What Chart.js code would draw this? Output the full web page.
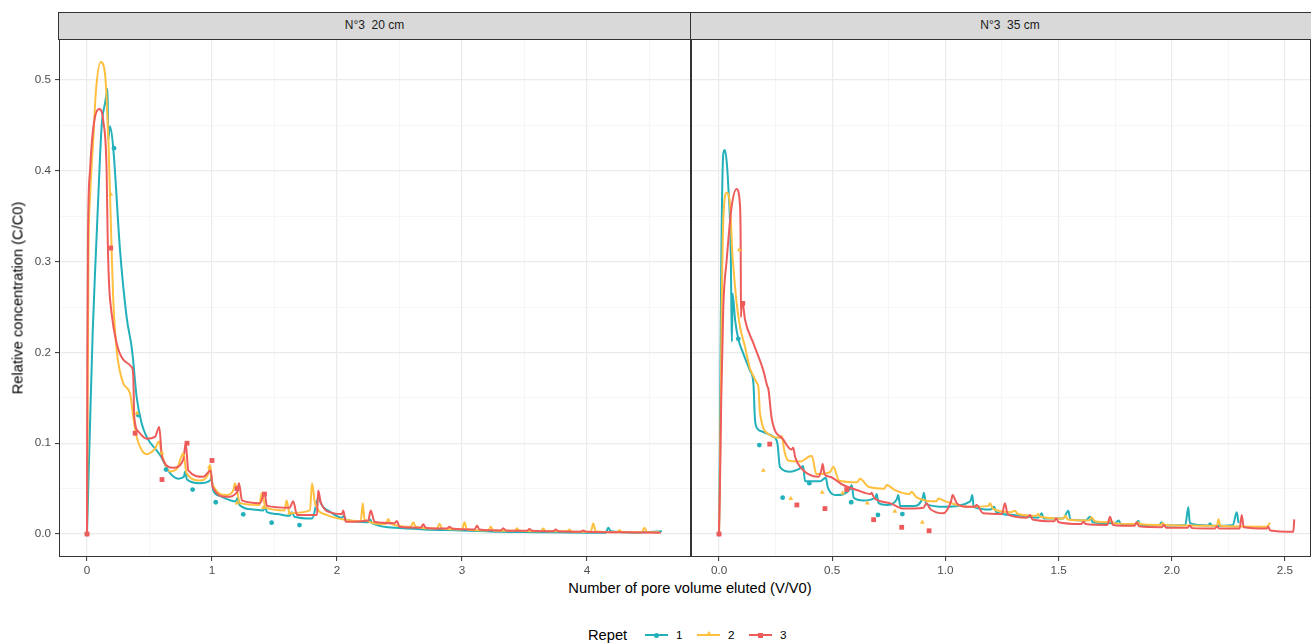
<!DOCTYPE html>
<html>
<head>
<meta charset="utf-8">
<script src="https://cdn.jsdelivr.net/npm/chart.js@4.4.1/dist/chart.umd.min.js"></script>
<style>
body { margin: 0; background: #fff; }
#wrap { position: relative; width: 1311px; height: 644px; overflow: hidden; font-family: "Liberation Sans", Arial, sans-serif; }
canvas { position: absolute; top: 39px; }
.strip { position: absolute; top: 12px; height: 28px; box-sizing: border-box; background: #D9D9D9; border: 1px solid #333;
  font-family: "Liberation Sans Narrow", "Liberation Sans", sans-serif; font-size: 12px; color: #1A1A1A; text-align: center; line-height: 25px; white-space: pre; }
.title { position: absolute; font-size: 14.7px; color: #000; white-space: nowrap; line-height: 17px; }
.key { position: absolute; top: 634px; width: 23px; height: 2px; }
.mk { position: absolute; }
.lab { position: absolute; top: 628px; font-size: 11.7px; color: #000; line-height: 14px; }
</style>
</head>
<body>
<div id="wrap">
  <div class="strip" id="s0" style="left:58px;width:633px;"></div>
  <div class="strip" id="s1" style="left:690px;width:640px;"></div>
  <canvas id="c20" width="691" height="540" style="left:0;"></canvas>
  <canvas id="c35" width="620" height="540" style="left:691px;"></canvas>
  <div class="title" style="left:18px;top:298px;transform:translate(-50%,-50%) rotate(-90deg);">Relative concentration (C/C0)</div>
  <div class="title" style="left:690px;top:580px;transform:translateX(-50%);">Number of pore volume eluted (V/V0)</div>
  <div class="title" style="left:588px;top:627px;">Repet</div>
  <div id="legend"></div>
</div>
<script>
const facets = ['N°3  20 cm', 'N°3  35 cm'];
const repets = ['1', '2', '3'];
const colors = ['#22B0BA', '#FFBF3F', '#EE5B5B'];

const yTicks = [0, 0.1, 0.2, 0.3, 0.4, 0.5];
const yMinor = [0.05, 0.15, 0.25, 0.35, 0.45];
const xTicks20 = [0, 1, 2, 3, 4];
const xMinor20 = [0.5, 1.5, 2.5, 3.5, 4.5];
const xTicks35 = [0, 0.5, 1, 1.5, 2, 2.5];
const xMinor35 = [0.25, 0.75, 1.25, 1.75, 2.25];

// 20 cm column, fitted curves [V/V0, C/C0]
const rep1Line20 = [[0,0],[0.02,0.1],[0.045,0.22],[0.068,0.3],[0.09,0.37],[0.117,0.449],[0.145,0.475],[0.165,0.49],[0.169,0.434],[0.184,0.449],[0.21,0.425],[0.264,0.313],[0.317,0.239],[0.357,0.206],[0.37,0.19],[0.397,0.151],[0.437,0.122],[0.477,0.107],[0.584,0.087],[0.664,0.067],[0.73,0.061],[0.775,0.063],[0.785,0.069],[0.8,0.06],[0.9,0.056],[0.985,0.059],[0.995,0.063],[1.01,0.048],[1.06,0.042],[1.19,0.036],[1.205,0.04],[1.22,0.032],[1.33,0.027],[1.41,0.026],[1.425,0.03],[1.44,0.024],[1.52,0.022],[1.62,0.02],[1.64,0.024],[1.66,0.019],[1.8,0.017],[1.855,0.041],[1.87,0.034],[1.95,0.024],[2.04,0.018],[2.055,0.02],[2.07,0.016],[2.25,0.013],[2.265,0.016],[2.28,0.012],[2.5,0.0066],[2.7,0.005],[3.0,0.004],[3.3,0.0025],[3.6,0.002],[4.0,0.0015],[4.15,0.0015],[4.17,0.007],[4.19,0.003],[4.4,0.0015],[4.6,0.003]];
const rep2Line20 = [[0,0],[0.005,0.15],[0.012,0.31],[0.024,0.37],[0.05,0.434],[0.072,0.489],[0.11,0.52],[0.144,0.507],[0.157,0.48],[0.171,0.434],[0.184,0.375],[0.197,0.313],[0.21,0.258],[0.237,0.203],[0.29,0.166],[0.344,0.155],[0.37,0.129],[0.397,0.107],[0.437,0.0925],[0.477,0.088],[0.544,0.094],[0.576,0.102],[0.6,0.087],[0.664,0.069],[0.72,0.072],[0.77,0.089],[0.797,0.067],[0.904,0.059],[0.97,0.066],[0.984,0.076],[1.0,0.056],[1.12,0.043],[1.17,0.048],[1.184,0.056],[1.224,0.034],[1.38,0.032],[1.397,0.045],[1.43,0.029],[1.58,0.026],[1.597,0.037],[1.62,0.023],[1.784,0.026],[1.8,0.056],[1.824,0.034],[1.918,0.021],[2.05,0.016],[2.19,0.014],[2.206,0.034],[2.22,0.016],[2.39,0.011],[2.41,0.0165],[2.43,0.0115],[2.59,0.008],[2.61,0.0129],[2.63,0.008],[2.8,0.006],[2.82,0.0114],[2.84,0.006],[3.0,0.005],[3.02,0.0129],[3.04,0.005],[3.21,0.004],[3.23,0.008],[3.25,0.004],[3.42,0.0035],[3.44,0.0063],[3.46,0.0035],[3.63,0.003],[3.65,0.006],[3.67,0.003],[3.84,0.003],[3.86,0.005],[3.88,0.0025],[4.03,0.0025],[4.05,0.0117],[4.07,0.003],[4.24,0.002],[4.26,0.0045],[4.28,0.002],[4.44,0.002],[4.46,0.007],[4.48,0.002],[4.58,0.002]];
const rep3Line20 = [[0,0],[0.003,0.2],[0.008,0.33],[0.024,0.4],[0.05,0.447],[0.099,0.468],[0.13,0.455],[0.157,0.4],[0.165,0.33],[0.175,0.28],[0.195,0.245],[0.237,0.21],[0.29,0.192],[0.357,0.184],[0.37,0.175],[0.378,0.129],[0.41,0.113],[0.477,0.105],[0.544,0.107],[0.578,0.118],[0.6,0.085],[0.69,0.073],[0.77,0.082],[0.79,0.1],[0.81,0.07],[0.93,0.063],[0.99,0.07],[1.005,0.052],[1.12,0.041],[1.2,0.046],[1.216,0.056],[1.24,0.037],[1.384,0.034],[1.42,0.045],[1.44,0.031],[1.62,0.029],[1.65,0.036],[1.68,0.021],[1.84,0.021],[1.85,0.048],[1.87,0.035],[1.97,0.023],[2.04,0.022],[2.05,0.026],[2.07,0.0136],[2.25,0.015],[2.27,0.026],[2.3,0.0136],[2.46,0.012],[2.48,0.0143],[2.5,0.008],[2.67,0.007],[2.69,0.0107],[2.71,0.007],[2.88,0.006],[2.9,0.008],[2.92,0.006],[3.1,0.005],[3.12,0.009],[3.14,0.005],[3.31,0.004],[3.33,0.0065],[3.35,0.004],[3.52,0.0035],[3.54,0.0055],[3.56,0.0035],[3.73,0.003],[3.75,0.005],[3.77,0.003],[3.95,0.0025],[3.97,0.004],[3.99,0.0025],[4.3,0.002],[4.59,0.0015]];
// 20 cm column, measured points
const rep1Obs20 = [[0,0],[0.216,0.425],[0.41,0.131],[0.632,0.071],[0.845,0.049],[1.03,0.035],[1.25,0.0217],[1.477,0.0125],[1.7,0.0099]];
const rep2Obs20 = [[0,0],[0.19,0.374],[0.4,0.133],[0.6,0.089],[0.77,0.087],[0.98,0.074],[1.2,0.034],[1.41,0.029],[1.62,0.023]];
const rep3Obs20 = [[0,0],[0.19,0.315],[0.385,0.111],[0.6,0.06],[0.8,0.1],[1.0,0.081],[1.2,0.05],[1.42,0.044]];

// 35 cm column, fitted curves
const rep1Line35 = [[0,0],[0.004,0.1],[0.01,0.3],[0.019,0.419],[0.026,0.423],[0.034,0.41],[0.041,0.383],[0.052,0.309],[0.055,0.24],[0.057,0.212],[0.06,0.265],[0.071,0.236],[0.085,0.215],[0.107,0.199],[0.137,0.18],[0.152,0.166],[0.159,0.126],[0.17,0.116],[0.189,0.113],[0.24,0.107],[0.258,0.1],[0.269,0.074],[0.314,0.0687],[0.358,0.0723],[0.372,0.075],[0.38,0.058],[0.446,0.058],[0.472,0.062],[0.48,0.052],[0.52,0.043],[0.58,0.05],[0.586,0.054],[0.595,0.04],[0.637,0.037],[0.69,0.04],[0.696,0.044],[0.705,0.034],[0.741,0.032],[0.785,0.038],[0.792,0.043],[0.8,0.031],[0.86,0.031],[0.9,0.04],[0.905,0.0455],[0.915,0.033],[1.0,0.03],[1.11,0.036],[1.119,0.043],[1.125,0.03],[1.2,0.027],[1.215,0.03],[1.225,0.024],[1.3,0.021],[1.41,0.018],[1.425,0.0228],[1.435,0.017],[1.52,0.017],[1.543,0.0257],[1.552,0.016],[1.62,0.015],[1.639,0.019],[1.65,0.013],[1.75,0.012],[1.765,0.015],[1.775,0.011],[1.84,0.011],[1.852,0.0147],[1.862,0.01],[1.945,0.01],[1.955,0.0129],[1.965,0.0095],[2.06,0.01],[2.073,0.0294],[2.08,0.012],[2.16,0.0095],[2.169,0.0118],[2.178,0.009],[2.27,0.01],[2.287,0.0239],[2.295,0.012]];
const rep2Line35 = [[0,0],[0.006,0.1],[0.012,0.25],[0.019,0.346],[0.034,0.376],[0.049,0.361],[0.059,0.309],[0.063,0.296],[0.078,0.254],[0.093,0.228],[0.115,0.206],[0.137,0.182],[0.144,0.178],[0.168,0.166],[0.174,0.162],[0.181,0.133],[0.225,0.109],[0.27,0.106],[0.277,0.108],[0.29,0.09],[0.306,0.081],[0.36,0.08],[0.405,0.086],[0.41,0.086],[0.43,0.066],[0.49,0.068],[0.505,0.074],[0.53,0.059],[0.61,0.057],[0.623,0.061],[0.66,0.052],[0.73,0.05],[0.74,0.054],[0.78,0.048],[0.84,0.044],[0.851,0.0466],[0.87,0.041],[0.96,0.036],[0.969,0.039],[1.0,0.036],[1.1,0.03],[1.19,0.031],[1.197,0.034],[1.21,0.028],[1.29,0.024],[1.307,0.0257],[1.32,0.022],[1.4,0.02],[1.41,0.022],[1.42,0.019],[1.52,0.017],[1.53,0.02],[1.54,0.016],[1.635,0.015],[1.646,0.0184],[1.66,0.014],[1.72,0.013],[1.73,0.015],[1.745,0.012],[1.84,0.011],[1.85,0.013],[1.86,0.011],[1.95,0.01],[1.96,0.012],[1.97,0.01],[2.08,0.0095],[2.2,0.009],[2.206,0.0162],[2.215,0.009],[2.42,0.008],[2.434,0.0125]];
const rep3Line35 = [[0,0],[0.004,0.05],[0.01,0.15],[0.019,0.25],[0.034,0.302],[0.056,0.361],[0.078,0.38],[0.093,0.361],[0.096,0.309],[0.097,0.239],[0.1,0.255],[0.105,0.254],[0.115,0.236],[0.152,0.21],[0.196,0.18],[0.213,0.163],[0.218,0.16],[0.233,0.127],[0.284,0.104],[0.32,0.093],[0.328,0.095],[0.336,0.085],[0.358,0.074],[0.439,0.063],[0.452,0.07],[0.458,0.077],[0.466,0.066],[0.49,0.063],[0.549,0.054],[0.608,0.0485],[0.67,0.044],[0.674,0.0455],[0.685,0.04],[0.755,0.034],[0.814,0.028],[0.903,0.029],[0.917,0.034],[0.932,0.028],[0.99,0.0228],[1.025,0.036],[1.032,0.043],[1.05,0.034],[1.094,0.03],[1.13,0.03],[1.138,0.032],[1.167,0.0228],[1.25,0.022],[1.263,0.034],[1.275,0.022],[1.36,0.018],[1.374,0.021],[1.385,0.016],[1.48,0.014],[1.49,0.0173],[1.5,0.013],[1.6,0.011],[1.61,0.0136],[1.62,0.011],[1.715,0.01],[1.727,0.019],[1.74,0.01],[1.835,0.009],[1.845,0.013],[1.855,0.0085],[1.955,0.0075],[1.965,0.01],[1.975,0.007],[2.07,0.007],[2.08,0.0095],[2.09,0.0065],[2.19,0.006],[2.2,0.0085],[2.21,0.006],[2.3,0.006],[2.309,0.021],[2.318,0.0074],[2.42,0.006],[2.426,0.008],[2.435,0.004],[2.537,0.0026],[2.541,0.0162]];
// 35 cm column, measured points
const rep1Obs35 = [[0,0],[0.085,0.215],[0.178,0.098],[0.281,0.04],[0.399,0.056],[0.584,0.035],[0.702,0.021],[0.81,0.022]];
const rep2Obs35 = [[0,0],[0.09,0.313],[0.196,0.07],[0.317,0.039],[0.456,0.046],[0.546,0.045],[0.655,0.034],[0.777,0.025],[0.898,0.0129]];
const rep3Obs35 = [[0,0],[0.105,0.254],[0.224,0.099],[0.344,0.032],[0.468,0.028],[0.564,0.049],[0.683,0.0158],[0.807,0.0074],[0.928,0.0036]];

const shapes = ['circle', 'triangle', 'rect'];
const radii = [2.4, 2.8, 3.4];
const toXY = arr => arr.map(p => ({ x: p[0], y: p[1] }));

function datasets(lines, obs) {
  const pts = obs.map((o, i) => ({
    data: toXY(o), showLine: false, pointStyle: shapes[i], pointRadius: radii[i],
    backgroundColor: colors[i], borderColor: colors[i], borderWidth: 0
  }));
  const ls = lines.map((l, i) => ({
    data: toXY(l), showLine: true, pointRadius: 0, borderColor: colors[i], borderWidth: 2,
    cubicInterpolationMode: 'monotone'
  }));
  // first dataset is painted last: red lines on top, markers above lines
  return [...pts.reverse(), ...ls.reverse()];
}

// scales fill the panel exactly: no label overhang padding
function noPad(s) { s.paddingTop = 0; s.paddingBottom = 0; s.paddingLeft = 0; s.paddingRight = 0; }

function gridScale(major, minor, fmt, opts) {
  return Object.assign({
    type: 'linear',
    border: { display: false },
    afterBuildTicks: s => { s.ticks = [...major, ...minor].sort((a, b) => a - b).map(v => ({ value: v })); },
    grid: {
      color: c => major.includes(c.tick.value) ? '#EBEBEB' : '#F4F4F4',
      lineWidth: c => major.includes(c.tick.value) ? 1.2 : 0.8,
      tickColor: c => major.includes(c.tick.value) ? '#333333' : 'rgba(0,0,0,0)',
      tickLength: 4, tickWidth: 1
    },
    ticks: {
      autoSkip: false, maxRotation: 0, color: '#4D4D4D', padding: 3,
      font: { family: '"Liberation Sans", Arial, sans-serif', size: 11.7 },
      callback: v => major.includes(v) ? fmt(v) : ''
    }
  }, opts);
}

const panelBorder = {
  id: 'panelBorder',
  afterDraw(chart) {
    const { ctx, chartArea: a } = chart;
    ctx.save();
    ctx.strokeStyle = '#333333';
    ctx.lineWidth = 1;
    ctx.strokeRect(a.left + 0.5, a.top + 0.5, a.right - a.left - 1, a.bottom - a.top - 1);
    ctx.restore();
  }
};

function makePanel(id, lines, obs, xMajor, xMinor, xMin, xMax, xFmt, withY) {
  const xs = gridScale(xMajor, xMinor, xFmt, { min: xMin, max: xMax, afterFit: s => { s.height = 22; noPad(s); } });
  const ys = gridScale(yTicks, yMinor, v => v.toFixed(1), {
    min: -0.0253, max: 0.5452, afterFit: s => { s.width = withY ? 59 : 0; noPad(s); }
  });
  if (!withY) { ys.ticks.display = false; ys.grid.drawTicks = false; }
  else { ys.ticks.padding = 4; }
  return new Chart(document.getElementById(id), {
    type: 'scatter',
    data: { datasets: datasets(lines, obs) },
    options: {
      responsive: false, animation: false, devicePixelRatio: 1,
      layout: { padding: 0, autoPadding: false },
      plugins: { legend: { display: false }, tooltip: { enabled: false } },
      scales: { x: xs, y: ys }
    },
    plugins: [panelBorder]
  });
}

makePanel('c20', [rep1Line20, rep2Line20, rep3Line20], [rep1Obs20, rep2Obs20, rep3Obs20],
  xTicks20, xMinor20, -0.224, 4.832, v => String(v), true);
makePanel('c35', [rep1Line35, rep2Line35, rep3Line35], [rep1Obs35, rep2Obs35, rep3Obs35],
  xTicks35, xMinor35, -0.1237, 2.615, v => v.toFixed(1), false);

document.getElementById('s0').textContent = facets[0];
document.getElementById('s1').textContent = facets[1];

// legend keys
const legend = document.getElementById('legend');
const keyLeft = [645, 697, 749];
repets.forEach((r, i) => {
  const k = document.createElement('div');
  k.className = 'key';
  k.style.left = keyLeft[i] + 'px';
  k.style.background = colors[i];
  legend.appendChild(k);
  const m = document.createElement('div');
  m.className = 'mk';
  const cx = keyLeft[i] + 11.5;
  if (i === 0) {
    Object.assign(m.style, { left: (cx - 2.5) + 'px', top: '632.5px', width: '5px', height: '5px', borderRadius: '50%', background: colors[i] });
  } else if (i === 1) {
    Object.assign(m.style, { left: (cx - 3) + 'px', top: '631px', width: 0, height: 0, borderLeft: '3px solid transparent', borderRight: '3px solid transparent', borderBottom: '5px solid ' + colors[i] });
  } else {
    Object.assign(m.style, { left: (cx - 2.5) + 'px', top: '632.5px', width: '5px', height: '5px', background: colors[i] });
  }
  legend.appendChild(m);
  const t = document.createElement('div');
  t.className = 'lab';
  t.style.left = (keyLeft[i] + 31) + 'px';
  t.textContent = r;
  legend.appendChild(t);
});
</script>
</body>
</html>
